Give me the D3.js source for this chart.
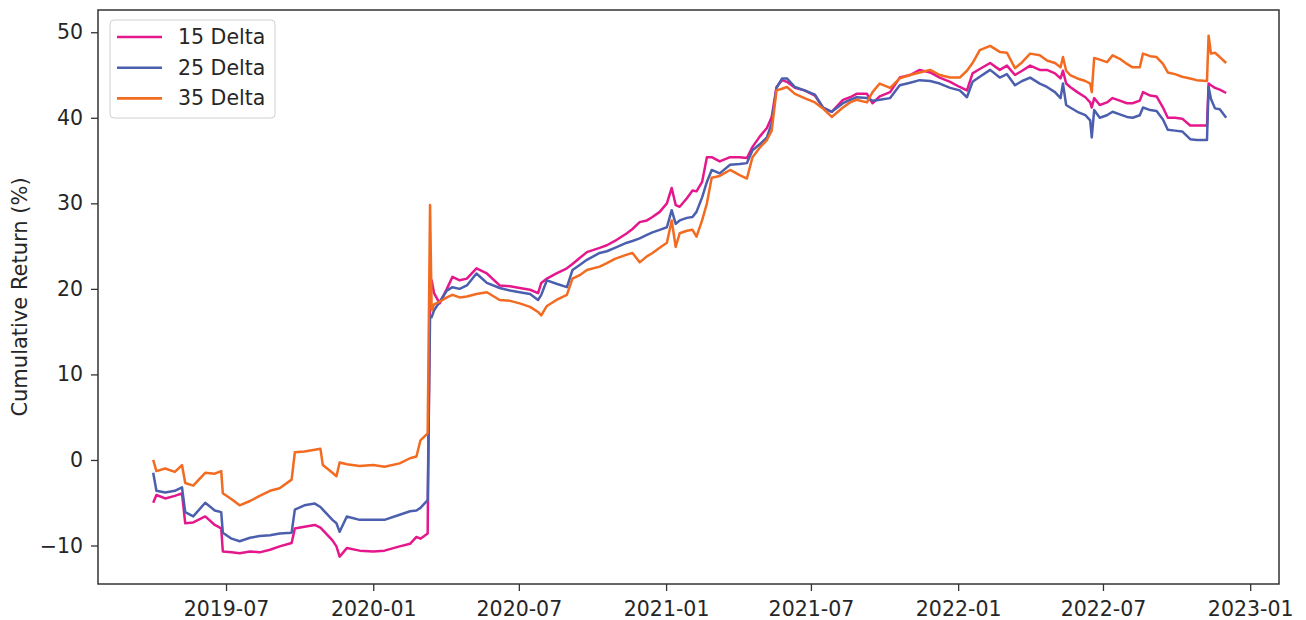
<!DOCTYPE html>
<html>
<head>
<meta charset="utf-8">
<script src="https://cdn.jsdelivr.net/npm/d3@7"></script>
<style>
  body { margin: 0; background: #fff; }
  svg { font-family: "DejaVu Sans", sans-serif; }
</style>
</head>
<body>
<svg width="1306" height="620"></svg>
<script>
// sample dates
var dates = [
  "2019-04-01","2019-04-05","2019-04-16","2019-04-28","2019-05-07","2019-05-11","2019-05-21","2019-06-05","2019-06-17","2019-06-25",
  "2019-06-27","2019-07-08","2019-07-18","2019-07-31","2019-08-12","2019-08-25","2019-09-06","2019-09-21","2019-09-25","2019-10-07",
  "2019-10-20","2019-10-27","2019-10-30","2019-11-11","2019-11-16","2019-11-20","2019-11-29","2019-12-15","2020-01-01","2020-01-15",
  "2020-02-03","2020-02-16","2020-02-24","2020-02-29","2020-03-09","2020-03-12","2020-03-14","2020-03-17","2020-03-24","2020-04-02",
  "2020-04-09","2020-04-18","2020-04-27","2020-05-09","2020-05-22","2020-06-07","2020-06-20","2020-07-02","2020-07-15","2020-07-25",
  "2020-07-29","2020-08-05","2020-08-17","2020-08-30","2020-09-06","2020-09-15","2020-09-24","2020-10-10","2020-10-19","2020-10-29",
  "2020-11-13","2020-11-20","2020-11-29","2020-12-08","2020-12-15","2020-12-24","2021-01-02","2021-01-08","2021-01-13","2021-01-18",
  "2021-01-27","2021-02-03","2021-02-08","2021-02-15","2021-02-21","2021-02-27","2021-03-09","2021-03-22","2021-04-03","2021-04-12",
  "2021-04-19","2021-04-28","2021-05-07","2021-05-13","2021-05-19","2021-05-26","2021-06-01","2021-06-11","2021-06-23","2021-07-06",
  "2021-07-16","2021-07-27","2021-08-10","2021-08-19","2021-08-27","2021-09-09","2021-09-16","2021-09-25","2021-10-08","2021-10-20",
  "2021-11-02","2021-11-14","2021-11-27","2021-12-09","2021-12-22","2022-01-03","2022-01-12","2022-01-19","2022-01-28","2022-02-10",
  "2022-02-22","2022-03-03","2022-03-13","2022-03-22","2022-04-01","2022-04-13","2022-04-22","2022-05-02","2022-05-09","2022-05-12",
  "2022-05-16","2022-05-21","2022-05-30","2022-06-09","2022-06-15","2022-06-17","2022-06-20","2022-06-27","2022-07-06","2022-07-13",
  "2022-07-22","2022-07-31","2022-08-07","2022-08-16","2022-08-20","2022-08-29","2022-09-06","2022-09-14","2022-09-20","2022-09-29",
  "2022-10-08","2022-10-18","2022-10-26","2022-11-08","2022-11-10","2022-11-13","2022-11-18","2022-11-24","2022-12-02"
];

var delta15 = [
  -5.0, -4.1, -4.5, -4.2, -3.9, -7.4, -7.3, -6.6, -7.6, -8.0,
  -10.7, -10.8, -10.9, -10.7, -10.8, -10.5, -10.1, -9.7, -8.0, -7.8,
  -7.6, -7.9, -8.2, -9.4, -10.1, -11.3, -10.3, -10.6, -10.7, -10.6,
  -10.1, -9.8, -9.0, -9.2, -8.6, 21.0, 21.0, 19.5, 18.3, 20.0,
  21.4, 21.0, 21.2, 22.4, 21.8, 20.4, 20.3, 20.1, 19.9, 19.5,
  20.7, 21.2, 21.8, 22.4, 22.9, 23.6, 24.3, 24.8, 25.1, 25.6,
  26.5, 27.0, 27.8, 28.0, 28.4, 29.0, 30.0, 31.8, 29.8, 29.6,
  30.6, 31.5, 31.4, 32.5, 35.4, 35.4, 34.9, 35.4, 35.4, 35.3,
  36.6, 37.8, 38.8, 40.1, 43.6, 44.4, 44.2, 43.5, 43.2, 42.6,
  41.2, 40.7, 42.1, 42.4, 42.8, 42.8, 41.7, 42.5, 43.0, 44.7,
  45.0, 45.6, 45.3, 44.7, 44.2, 43.6, 43.2, 45.2, 45.7, 46.4,
  45.6, 46.1, 45.0, 45.5, 46.1, 45.6, 45.6, 45.2, 44.6, 45.5,
  44.0, 43.6, 43.0, 42.4, 41.8, 41.2, 42.3, 41.5, 41.8, 42.3,
  42.0, 41.7, 41.7, 42.0, 43.0, 42.6, 42.5, 41.2, 40.0, 40.0,
  39.9, 39.1, 39.1, 39.1, 44.0, 43.8, 43.5, 43.3, 42.9
];

var delta25 = [
  -1.5, -3.6, -3.8, -3.6, -3.2, -6.1, -6.6, -5.0, -5.9, -6.1,
  -8.5, -9.2, -9.5, -9.1, -8.9, -8.8, -8.6, -8.5, -5.8, -5.3,
  -5.1, -5.5, -5.8, -7.0, -7.4, -8.4, -6.6, -7.0, -7.0, -7.0,
  -6.4, -6.0, -5.9, -5.6, -4.7, 16.8, 16.7, 17.5, 18.5, 19.8,
  20.2, 20.0, 20.4, 21.8, 20.7, 20.1, 19.8, 19.6, 19.4, 18.7,
  19.3, 21.0, 20.6, 20.2, 22.2, 22.8, 23.4, 24.2, 24.4, 24.8,
  25.4, 25.6, 25.9, 26.3, 26.6, 26.9, 27.2, 29.2, 27.6, 28.0,
  28.3, 28.4, 29.0, 30.7, 32.5, 33.9, 33.5, 34.5, 34.6, 34.7,
  36.2, 36.9, 37.7, 39.4, 43.5, 44.6, 44.6, 43.6, 43.2, 42.7,
  41.2, 40.7, 41.7, 42.1, 42.4, 42.3, 42.0, 42.1, 42.3, 43.8,
  44.1, 44.4, 44.3, 44.0, 43.5, 43.2, 42.4, 44.2, 44.8, 45.6,
  44.7, 45.1, 43.8, 44.3, 44.7, 44.0, 43.6, 43.0, 42.3, 44.0,
  41.5, 41.2, 40.7, 40.3, 39.7, 37.7, 40.9, 40.0, 40.3, 40.7,
  40.4, 40.1, 40.0, 40.3, 41.2, 40.9, 40.8, 39.8, 38.6, 38.5,
  38.4, 37.5, 37.4, 37.4, 43.6, 42.2, 41.1, 41.0, 40.0
];

var delta35 = [
  0.0, -1.3, -1.0, -1.4, -0.6, -2.7, -3.0, -1.5, -1.6, -1.3,
  -3.9, -4.6, -5.3, -4.8, -4.2, -3.6, -3.3, -2.3, 0.9, 1.0,
  1.2, 1.3, -0.6, -1.5, -1.9, -0.3, -0.5, -0.7, -0.6, -0.8,
  -0.4, 0.2, 0.4, 2.3, 3.1, 29.8, 17.5, 18.2, 18.5, 19.0,
  19.3, 19.0, 19.1, 19.4, 19.6, 18.7, 18.6, 18.3, 17.9, 17.3,
  16.9, 18.0, 18.7, 19.3, 21.2, 21.6, 22.2, 22.6, 23.0, 23.5,
  24.0, 24.2, 23.1, 23.8, 24.2, 24.8, 25.4, 28.0, 24.9, 26.5,
  26.8, 26.9, 26.1, 28.0, 30.0, 33.0, 33.2, 33.9, 33.3, 32.9,
  35.4, 36.5, 37.4, 38.5, 43.2, 43.4, 43.6, 42.8, 42.3, 41.8,
  41.1, 40.1, 41.2, 41.8, 42.1, 41.8, 43.0, 44.0, 43.5, 44.6,
  45.0, 45.3, 45.6, 45.0, 44.7, 44.7, 45.5, 46.4, 47.9, 48.4,
  47.7, 47.6, 45.8, 46.5, 47.5, 47.3, 46.7, 46.4, 45.9, 47.1,
  45.5, 45.0, 44.6, 44.3, 44.0, 43.0, 47.0, 46.8, 46.5, 47.3,
  46.9, 46.3, 45.9, 45.9, 47.5, 47.2, 47.1, 46.3, 45.3, 45.1,
  44.8, 44.6, 44.4, 44.3, 49.6, 47.5, 47.6, 47.1, 46.4
];

var seriesNames = ["15 Delta", "25 Delta", "35 Delta"];
var seriesColors = ["#e5178d", "#4b5fae", "#f26b21"];
var yTicks = [-10, 0, 10, 20, 30, 40, 50];
var xTicks = ["2019-07-01", "2020-01-01", "2020-07-01", "2021-01-01", "2021-07-01", "2022-01-01", "2022-07-01", "2023-01-01"];

var parse = d3.utcParse("%Y-%m-%d");
var plotLeft = 98, plotRight = 1279, plotTop = 10, plotBottom = 584;

var svg = d3.select("svg");

var x = d3.scaleUtc()
    .domain([parse("2019-01-22"), parse("2023-02-06")])
    .range([plotLeft, plotRight]);
var y = d3.scaleLinear()
    .domain([-14.5, 52.6])
    .range([plotBottom, plotTop]);

var series = [delta15, delta25, delta35].map(function(vals, i) {
  return {
    name: seriesNames[i],
    color: seriesColors[i],
    values: vals.map(function(v, j) { return {date: parse(dates[j]), value: v}; })
  };
});

var line = d3.line()
    .x(function(d) { return x(d.date); })
    .y(function(d) { return y(d.value); });

svg.selectAll("path.series")
    .data(series)
    .enter()
  .append("path")
    .attr("class", "series")
    .attr("fill", "none")
    .attr("stroke", function(d) { return d.color; })
    .attr("stroke-width", 2.5)
    .attr("stroke-linejoin", "round")
    .attr("d", function(d) { return line(d.values); });

// axes
var xAxis = svg.append("g")
    .attr("transform", "translate(0," + plotBottom + ")")
    .call(d3.axisBottom(x)
      .tickValues(xTicks.map(parse))
      .tickFormat(d3.utcFormat("%Y-%m"))
      .tickSize(7)
      .tickPadding(10));

var yAxis = svg.append("g")
    .attr("transform", "translate(" + plotLeft + ",0)")
    .call(d3.axisLeft(y)
      .tickValues(yTicks)
      .tickFormat(d3.format("d"))
      .tickSize(7)
      .tickPadding(8));

[xAxis, yAxis].forEach(function(g) {
  g.select(".domain").remove();
  g.selectAll(".tick line").attr("stroke", "#333").attr("stroke-width", 1.3);
  g.selectAll(".tick text")
    .attr("fill", "#262626")
    .style("font-size", "20.5px")
    .style("font-family", "DejaVu Sans");
});

svg.append("rect")
    .attr("x", plotLeft)
    .attr("y", plotTop)
    .attr("width", plotRight - plotLeft)
    .attr("height", plotBottom - plotTop)
    .attr("fill", "none")
    .attr("stroke", "#333")
    .attr("stroke-width", 1.5);

svg.append("text")
    .attr("transform", "translate(20," + ((plotTop + plotBottom) / 2) + ") rotate(-90)")
    .attr("text-anchor", "middle")
    .attr("dominant-baseline", "central")
    .attr("fill", "#262626")
    .style("font-size", "21px")
    .text("Cumulative Return (%)");

// legend
var legend = svg.append("g");
legend.append("rect")
    .attr("x", 110)
    .attr("y", 20)
    .attr("width", 165)
    .attr("height", 98)
    .attr("rx", 4)
    .attr("fill", "#fff")
    .attr("fill-opacity", 0.8)
    .attr("stroke", "#d0d0d0")
    .attr("stroke-width", 1);

var rows = legend.selectAll("g.row")
    .data(series)
    .enter()
  .append("g")
    .attr("class", "row")
    .attr("transform", function(d, i) { return "translate(0," + (37 + i * 30.7) + ")"; });

rows.append("line")
    .attr("x1", 117)
    .attr("x2", 162)
    .attr("stroke", function(d) { return d.color; })
    .attr("stroke-width", 2.6);

rows.append("text")
    .attr("x", 178)
    .attr("dominant-baseline", "central")
    .attr("fill", "#262626")
    .style("font-size", "20.5px")
    .text(function(d) { return d.name; });
</script>
</body>
</html>
